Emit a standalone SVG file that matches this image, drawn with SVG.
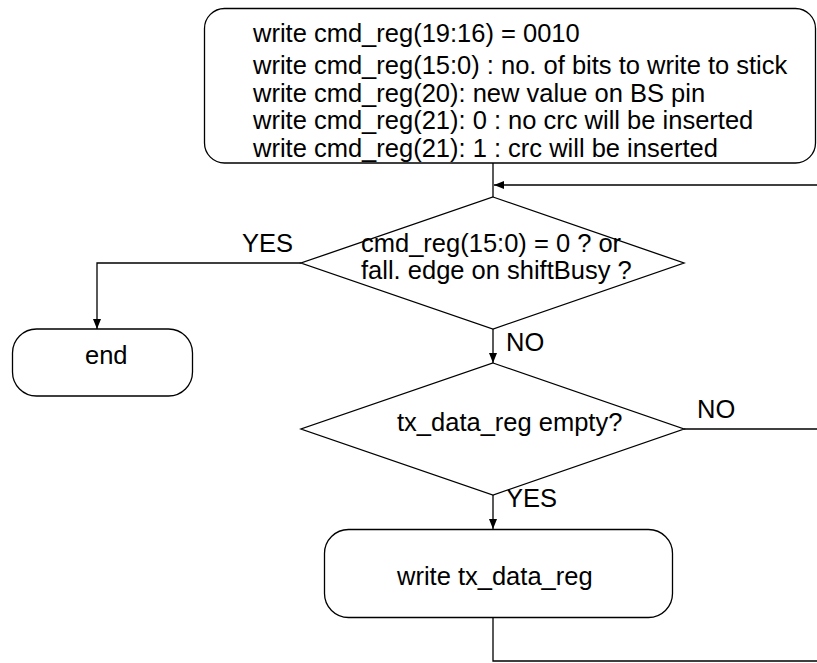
<svg xmlns="http://www.w3.org/2000/svg" width="817" height="663" viewBox="0 0 817 663">
<style>
.s{fill:#fff;stroke:#000;stroke-width:1.3}
.c{fill:none;stroke:#000;stroke-width:1.3}
text{font-family:"Liberation Sans",Arial,sans-serif;font-size:25.5px;fill:#000}
</style>
<defs>
<marker id="a" viewBox="0 0 10 8" refX="10" refY="4" markerWidth="10" markerHeight="8" markerUnits="userSpaceOnUse" orient="auto">
<path d="M0,0 L10,4 L0,8 Z" fill="#000"/>
</marker>
</defs>
<rect width="817" height="663" fill="#fff"/>
<g id="connectors">
<path class="c" d="M493,163 V197"/>
<path class="c" d="M817,185 H494" marker-end="url(#a)"/>
<path class="c" d="M301,263 H97 V329" marker-end="url(#a)"/>
<path class="c" d="M493,329 V363" marker-end="url(#a)"/>
<path class="c" d="M684,429 H817"/>
<path class="c" d="M493,495 V529" marker-end="url(#a)"/>
<path class="c" d="M493,618 V661 H817"/>
<text x="242" y="252">YES</text>
<text x="506" y="351">NO</text>
<text x="697" y="418">NO</text>
<text x="506" y="507">YES</text>
</g>
<g id="start">
<rect class="s" x="204.5" y="8.5" width="611" height="154.5" rx="20"/>
<text x="253" y="41.7">write cmd_reg(19:16) = 0010</text>
<text x="253" y="74">write cmd_reg(15:0) : no. of bits to write to stick</text>
<text x="253" y="101.7">write cmd_reg(20): new value on BS pin</text>
<text x="253" y="129.3">write cmd_reg(21): 0 : no crc will be inserted</text>
<text x="253" y="157">write cmd_reg(21): 1 : crc will be inserted</text>
</g>
<g id="decision1">
<polygon class="s" points="493,197 684,263 493,329 301,263"/>
<text x="361" y="252">cmd_reg(15:0) = 0 ? or</text>
<text x="361" y="279">fall. edge on shiftBusy ?</text>
</g>
<g id="end">
<rect class="s" x="12.5" y="329" width="180" height="67" rx="24"/>
<text x="85" y="363.5">end</text>
</g>
<g id="decision2">
<polygon class="s" points="493,363 684,429 493,495 301,429"/>
<text x="397" y="430.5">tx_data_reg empty?</text>
</g>
<g id="writetx">
<rect class="s" x="324.5" y="529.5" width="348" height="88" rx="24"/>
<text x="397" y="585">write tx_data_reg</text>
</g>
</svg>
